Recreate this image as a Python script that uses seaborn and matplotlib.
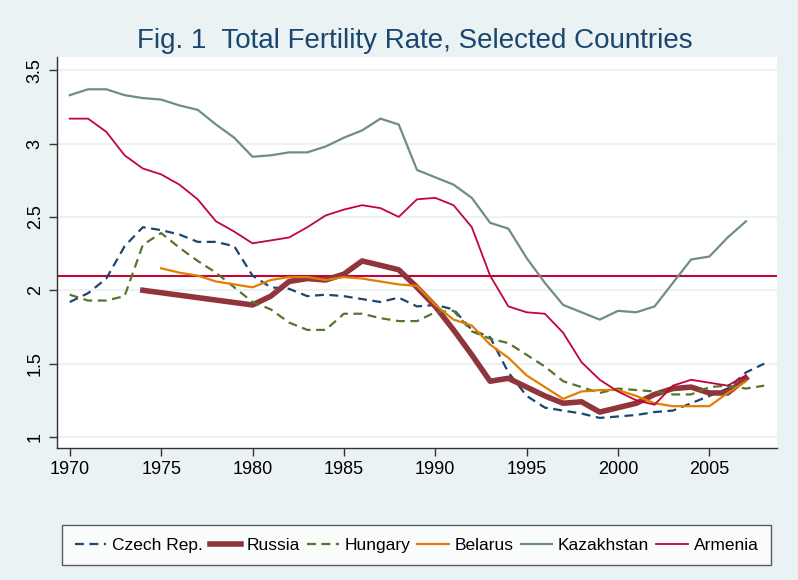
import numpy as np
import pandas as pd
import matplotlib
matplotlib.use('Agg')
import matplotlib.pyplot as plt
import seaborn as sns

# years
years_full = list(range(1970, 2009))          # 1970-2008
years_to2007 = list(range(1970, 2008))        # 1970-2007
years_belarus = list(range(1975, 2008))
years_russia = [1974] + list(range(1980, 2008))

czech = [1.92, 1.98, 2.08, 2.30, 2.43, 2.41, 2.38, 2.33, 2.33, 2.30,
         2.10, 2.02, 2.01, 1.96, 1.97, 1.96, 1.94, 1.92, 1.95, 1.89,
         1.90, 1.87, 1.73, 1.68, 1.44, 1.28, 1.20, 1.18, 1.16, 1.13,
         1.14, 1.15, 1.17, 1.18, 1.23, 1.28, 1.33, 1.44, 1.50]
hungary = [1.97, 1.93, 1.93, 1.96, 2.31, 2.39, 2.29, 2.20, 2.12, 2.02,
           1.92, 1.87, 1.78, 1.73, 1.73, 1.84, 1.84, 1.81, 1.79, 1.79,
           1.85, 1.86, 1.72, 1.67, 1.64, 1.56, 1.48, 1.38, 1.34, 1.30,
           1.33, 1.32, 1.31, 1.29, 1.29, 1.34, 1.35, 1.33, 1.35]
russia = [2.00,
          1.90, 1.96, 2.06, 2.08, 2.07, 2.11, 2.20, 2.17, 2.14, 2.02,
          1.89, 1.73, 1.56, 1.38, 1.40, 1.34, 1.28, 1.23, 1.24, 1.17,
          1.20, 1.23, 1.29, 1.33, 1.34, 1.30, 1.30, 1.40]
belarus = [2.15, 2.12, 2.10, 2.06, 2.04,
           2.02, 2.07, 2.09, 2.09, 2.07, 2.09, 2.08, 2.06, 2.04, 2.03,
           1.90, 1.80, 1.76, 1.63, 1.54, 1.42, 1.34, 1.26, 1.31, 1.32,
           1.32, 1.28, 1.23, 1.21, 1.21, 1.21, 1.30, 1.38]
kazakhstan = [3.33, 3.37, 3.37, 3.33, 3.31, 3.30, 3.26, 3.23, 3.13, 3.04,
              2.91, 2.92, 2.94, 2.94, 2.98, 3.04, 3.09, 3.17, 3.13, 2.82,
              2.77, 2.72, 2.63, 2.46, 2.42, 2.22, 2.05, 1.90, 1.85, 1.80,
              1.86, 1.85, 1.89, 2.05, 2.21, 2.23, 2.36, 2.47]
armenia = [3.17, 3.17, 3.08, 2.92, 2.83, 2.79, 2.72, 2.62, 2.47, 2.40,
           2.32, 2.34, 2.36, 2.43, 2.51, 2.55, 2.58, 2.56, 2.50, 2.62,
           2.63, 2.58, 2.43, 2.10, 1.89, 1.85, 1.84, 1.71, 1.51, 1.39,
           1.31, 1.25, 1.22, 1.35, 1.39, 1.37, 1.35, 1.42]

replacement = 2.1

series = [
    ('Czech Rep.', years_full, czech, '#1a476f', 1.6, (0, (4, 2.5))),
    ('Russia', years_russia, russia, '#90353b', 4.0, '-'),
    ('Hungary', years_full, hungary, '#55752f', 1.6, (0, (4, 2.5))),
    ('Belarus', years_belarus, belarus, '#e37e00', 1.6, '-'),
    ('Kazakhstan', years_to2007, kazakhstan, '#6e8e84', 1.6, '-'),
    ('Armenia', years_to2007, armenia, '#c10534', 1.3, '-'),
]

bg = '#eaf2f3'
plt.rcParams['font.family'] = ['Liberation Sans', 'DejaVu Sans']

fig = plt.figure(figsize=(7.98, 5.8), dpi=100, facecolor=bg)
ax = fig.add_axes([0.0714, 0.2276, 0.9023, 0.6741])
ax.set_facecolor('white')

for name, yrs, vals, col, lw, ls in series:
    sns.lineplot(x=yrs, y=vals, ax=ax, color=col, linewidth=lw, linestyle=ls,
                 label=name, sort=False)

ax.axhline(replacement, color='#c10534', linewidth=1.5, zorder=1)

ax.set_xlim(1969.3, 2008.7)
ax.set_ylim(0.925, 3.59)
ax.set_xticks(range(1970, 2006, 5))
ax.set_yticks([1, 1.5, 2, 2.5, 3, 3.5])
ax.set_yticklabels(['1', '1.5', '2', '2.5', '3', '3.5'], rotation=90, va='center')
ax.yaxis.grid(True, color=bg, linewidth=1.5)
ax.set_axisbelow(True)
ax.tick_params(axis='both', labelsize=13, length=6, width=1, color='#333333',
               labelcolor='black')
for s in ['top', 'right']:
    ax.spines[s].set_visible(False)
for s in ['left', 'bottom']:
    ax.spines[s].set_color('#333333')
    ax.spines[s].set_linewidth(1)

fig.suptitle('Fig. 1  Total Fertility Rate, Selected Countries', x=0.52, y=0.952,
             fontsize=20, color='#1a476f')

ax.legend(loc='center', bbox_to_anchor=(0.5 * (64 + 769) / 798, 1 - 545 / 580),
          bbox_transform=fig.transFigure, ncol=6, frameon=True, fontsize=12.5,
          handlelength=1.8, handletextpad=0.35, columnspacing=0.4,
          edgecolor='#333333', fancybox=False, borderpad=0.7, borderaxespad=0)
leg = ax.get_legend()
leg.get_frame().set_linewidth(1)

plt.savefig('out.png', dpi=100, facecolor=bg)
